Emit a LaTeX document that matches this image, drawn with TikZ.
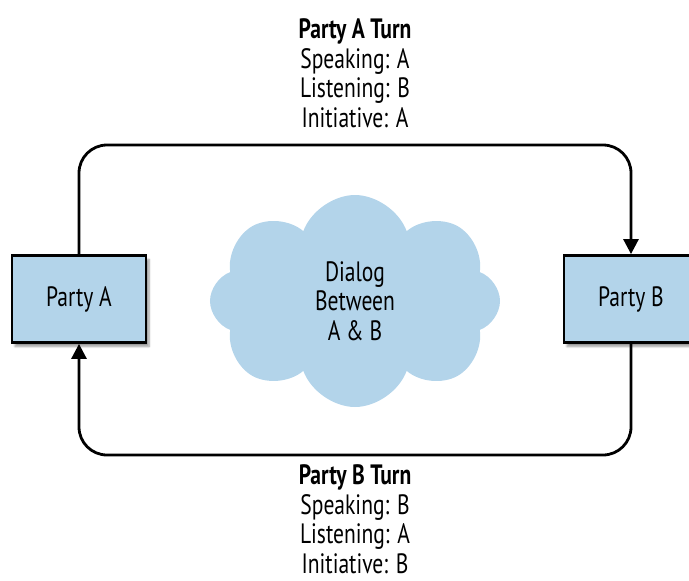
\documentclass[tikz,border=0pt]{standalone}
\usepackage{fontspec}
\setmainfont[FakeStretch=0.77]{PT Sans}
\usepackage{tikz}
\usetikzlibrary{positioning,shapes.symbols,arrows.meta,shadows.blur}
\definecolor{partyblue}{RGB}{179,212,234}

\begin{document}
\begin{tikzpicture}[x=1pt,y=-1pt,
    every node/.style={font=\fontsize{28}{29.5}\selectfont},
    party/.style={draw,line width=2.8pt,fill=partyblue,minimum width=134pt,
      minimum height=87pt,blur shadow={shadow xshift=3pt,shadow yshift=-4pt,
      shadow blur steps=6}},
    turn/.style={align=center,inner sep=0pt},
    flow/.style={line width=2.8pt,rounded corners=28pt,
      -{Triangle[length=15pt,width=15pt]}}]
    \useasboundingbox (0,0) rectangle (689,581);
    % the two parties
    \node[party] (a) at (79,299) {Party A};
    \node[party] (b) at (631,299) {Party B};
    \node[cloud,fill=partyblue,cloud puffs=8,cloud puff arc=140,
      minimum width=290pt,minimum height=212pt,align=center] (dialog)
      at (355,301) {Dialog\\Between\\A \& B};
    % turns
    \coordinate (t) at (0,145);
    \coordinate (u) at (0,455);
    \draw[flow] (a.north) -- (a |- t) -- (b |- t) -- (b.north);
    \draw[flow] (b.south) -- (b |- u) -- (a |- u) -- (a.south);
    \node[turn] (turnA) at (355,73) {\textbf{Party A Turn}\\Speaking: A\\
      Listening: B\\Initiative: A};
    \node[turn] (turnB) at (355,519) {\textbf{Party B Turn}\\Speaking: B\\
      Listening: A\\Initiative: B};
\end{tikzpicture}
\end{document}
